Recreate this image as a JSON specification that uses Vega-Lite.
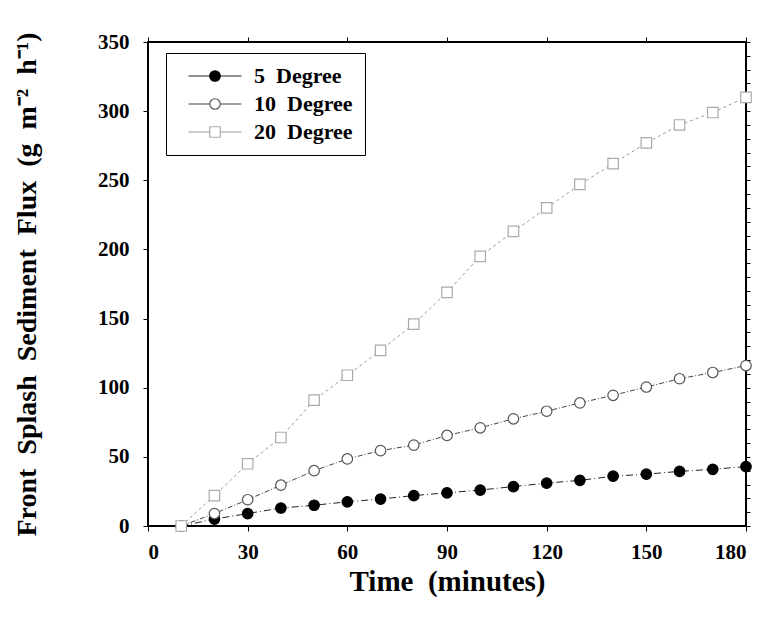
{
  "$schema": "https://vega.github.io/schema/vega-lite/v6.json",
  "autosize": "none",
  "padding": {"left": 148, "top": 42, "right": 17, "bottom": 98},
  "width": 598,
  "height": 484,
  "background": "white",
  "config": {
    "view": {"stroke": "black", "strokeWidth": 2},
    "axis": {"grid": false, "domain": false, "labelFont": "Liberation Serif", "labelFontWeight": "bold", "labelFontSize": 21, "labelColor": "black", "titleFont": "Liberation Serif", "titleFontWeight": "bold", "titleColor": "black", "tickColor": "black", "tickSize": 5}
  },
  "resolve": {"axis": {"x": "independent", "y": "independent"}},
  "data": {"values": [
    {"t": 10, "v": 0, "s": "5 Degree"}, {"t": 20, "v": 5, "s": "5 Degree"}, {"t": 30, "v": 9, "s": "5 Degree"}, {"t": 40, "v": 13, "s": "5 Degree"}, {"t": 50, "v": 15, "s": "5 Degree"}, {"t": 60, "v": 17.5, "s": "5 Degree"}, {"t": 70, "v": 19.5, "s": "5 Degree"}, {"t": 80, "v": 22, "s": "5 Degree"}, {"t": 90, "v": 24, "s": "5 Degree"}, {"t": 100, "v": 26, "s": "5 Degree"}, {"t": 110, "v": 28.5, "s": "5 Degree"}, {"t": 120, "v": 31, "s": "5 Degree"}, {"t": 130, "v": 33, "s": "5 Degree"}, {"t": 140, "v": 36, "s": "5 Degree"}, {"t": 150, "v": 37.5, "s": "5 Degree"}, {"t": 160, "v": 39.5, "s": "5 Degree"}, {"t": 170, "v": 41, "s": "5 Degree"}, {"t": 180, "v": 43, "s": "5 Degree"},
    {"t": 10, "v": 0, "s": "10 Degree"}, {"t": 20, "v": 9, "s": "10 Degree"}, {"t": 30, "v": 19, "s": "10 Degree"}, {"t": 40, "v": 29.5, "s": "10 Degree"}, {"t": 50, "v": 40, "s": "10 Degree"}, {"t": 60, "v": 48.5, "s": "10 Degree"}, {"t": 70, "v": 54.5, "s": "10 Degree"}, {"t": 80, "v": 58.5, "s": "10 Degree"}, {"t": 90, "v": 65.5, "s": "10 Degree"}, {"t": 100, "v": 71, "s": "10 Degree"}, {"t": 110, "v": 77.5, "s": "10 Degree"}, {"t": 120, "v": 83, "s": "10 Degree"}, {"t": 130, "v": 89, "s": "10 Degree"}, {"t": 140, "v": 94.5, "s": "10 Degree"}, {"t": 150, "v": 100.5, "s": "10 Degree"}, {"t": 160, "v": 106.5, "s": "10 Degree"}, {"t": 170, "v": 111, "s": "10 Degree"}, {"t": 180, "v": 116, "s": "10 Degree"},
    {"t": 10, "v": 0, "s": "20 Degree"}, {"t": 20, "v": 22, "s": "20 Degree"}, {"t": 30, "v": 45, "s": "20 Degree"}, {"t": 40, "v": 64, "s": "20 Degree"}, {"t": 50, "v": 91, "s": "20 Degree"}, {"t": 60, "v": 109, "s": "20 Degree"}, {"t": 70, "v": 127, "s": "20 Degree"}, {"t": 80, "v": 146, "s": "20 Degree"}, {"t": 90, "v": 169, "s": "20 Degree"}, {"t": 100, "v": 195, "s": "20 Degree"}, {"t": 110, "v": 213, "s": "20 Degree"}, {"t": 120, "v": 230, "s": "20 Degree"}, {"t": 130, "v": 247, "s": "20 Degree"}, {"t": 140, "v": 262, "s": "20 Degree"}, {"t": 150, "v": 277, "s": "20 Degree"}, {"t": 160, "v": 290, "s": "20 Degree"}, {"t": 170, "v": 299, "s": "20 Degree"}, {"t": 180, "v": 310, "s": "20 Degree"}
  ]},
  "layer": [
    {
      "mark": {"type": "line", "strokeWidth": 1},
      "encoding": {
        "x": {"field": "t", "type": "quantitative", "scale": {"domain": [0, 180], "nice": false},
              "axis": {"values": [0, 30, 60, 90, 120, 150, 180], "title": "Time\u00a0\u00a0(minutes)", "titleFontSize": 29, "titlePadding": 5, "labelPadding": 10}},
        "y": {"field": "v", "type": "quantitative", "scale": {"domain": [0, 350], "nice": false},
              "axis": {"values": [0, 50, 100, 150, 200, 250, 300, 350], "title": "Front\u00a0\u00a0Splash\u00a0\u00a0Sediment\u00a0\u00a0Flux\u00a0\u00a0(g\u00a0\u00a0m\u207b\u00b2\u00a0\u00a0h\u207b\u00b9)", "titleFontSize": 28, "titlePadding": 56, "labelPadding": 14}},
        "color": {"field": "s", "type": "nominal", "sort": ["5 Degree", "10 Degree", "20 Degree"], "scale": {"range": ["#222222", "#444444", "#999999"]},
          "legend": {
            "title": null, "orient": "none", "legendX": 18, "legendY": 11,
            "strokeColor": "black", "padding": 12, "fillColor": null,
            "labelFont": "Liberation Serif", "labelFontWeight": "bold", "labelFontSize": 22, "labelColor": "black",
            "labelExpr": "replace(datum.label, ' ', '\u00a0\u00a0')",
            "rowPadding": 6, "symbolType": "M-5.3,0L5.3,0", "symbolSize": 100, "symbolStrokeWidth": 1, "symbolOffset": 26, "labelOffset": 28
          }},
        "strokeDash": {"field": "s", "type": "nominal", "sort": ["5 Degree", "10 Degree", "20 Degree"], "scale": {"range": [[7, 3, 1, 3], [5, 2, 1, 2], [3, 3]]}, "legend": null}
      }
    },
    {
      "mark": {"type": "point", "filled": false, "strokeWidth": 1.2, "opacity": 1, "size": 110},
      "encoding": {
        "x": {"field": "t", "type": "quantitative", "axis": {"orient": "top", "values": [0, 30, 60, 90, 120, 150, 180], "labels": false, "title": null, "tickSize": 5}},
        "y": {"field": "v", "type": "quantitative", "axis": {"orient": "right", "values": [0, 10, 20, 30, 40, 50, 60, 70, 80, 90, 100, 110, 120, 130, 140, 150, 160, 170, 180, 190, 200, 210, 220, 230, 240, 250, 260, 270, 280, 290, 300, 310, 320, 330, 340, 350], "labels": false, "title": null, "tickSize": 4}},
        "shape": {"field": "s", "type": "nominal", "scale": {"domain": ["5 Degree", "10 Degree", "20 Degree"], "range": ["circle", "circle", "square"]},
          "legend": {
            "title": null, "orient": "none", "legendX": 18, "legendY": 11,
            "strokeColor": null, "padding": 12, "fillColor": null,
            "labelFont": "Liberation Serif", "labelFontWeight": "bold", "labelFontSize": 22, "labelOpacity": 0,
            "labelExpr": "replace(datum.label, ' ', '\u00a0\u00a0')",
            "rowPadding": 6, "symbolSize": 110, "symbolStrokeWidth": 1.2, "symbolOffset": 26, "labelOffset": 28
          }},
        "fill": {"field": "s", "type": "nominal", "scale": {"domain": ["5 Degree", "10 Degree", "20 Degree"], "range": ["black", "white", "white"]}},
        "stroke": {"field": "s", "type": "nominal", "scale": {"domain": ["5 Degree", "10 Degree", "20 Degree"], "range": ["black", "#555555", "#aaaaaa"]}}
      }
    }
  ]
}
